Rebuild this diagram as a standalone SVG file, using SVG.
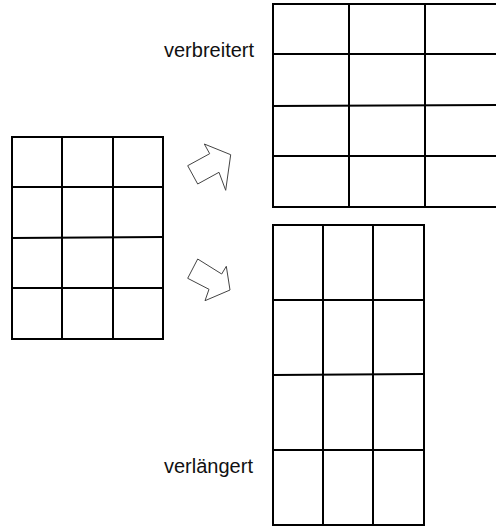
<svg xmlns="http://www.w3.org/2000/svg" width="496" height="526" viewBox="0 0 496 526">
<style>
.grid line, .grid rect { stroke: #000; stroke-width: 2; fill: none; }
.arrow { fill: #fff; stroke: #444; stroke-width: 1; stroke-linejoin: miter; }
.lbl { font-family: "Liberation Sans", Arial, sans-serif; font-size: 20px; fill: #111; }
</style>
<rect width="496" height="526" fill="#fff"/>
<g id="original" class="grid">
  <rect x="12" y="137" width="151" height="202"/>
  <line x1="62" y1="137" x2="62" y2="339"/>
  <line x1="113" y1="137" x2="113" y2="339"/>
  <line x1="12" y1="187" x2="163" y2="187"/>
  <line x1="12" y1="238" x2="163" y2="237" stroke-width="1.5"/>
  <line x1="12" y1="288" x2="163" y2="288"/>
</g>
<g id="verbreitert" class="grid">
  <rect x="273" y="4" width="229" height="203"/>
  <line x1="349" y1="4" x2="349" y2="207"/>
  <line x1="425" y1="4" x2="425" y2="207"/>
  <line x1="273" y1="54" x2="502" y2="54"/>
  <line x1="273" y1="106" x2="502" y2="105" stroke-width="1.5"/>
  <line x1="273" y1="156" x2="502" y2="156"/>
  <text class="lbl" x="164" y="57" stroke="none">verbreitert</text>
</g>
<g id="verlaengert" class="grid">
  <rect x="273" y="225" width="151" height="300"/>
  <line x1="323" y1="225" x2="323" y2="525"/>
  <line x1="373" y1="225" x2="373" y2="525"/>
  <line x1="273" y1="300" x2="424" y2="300"/>
  <line x1="273" y1="375" x2="424" y2="374" stroke-width="1.5"/>
  <line x1="273" y1="450" x2="424" y2="450"/>
  <text class="lbl" x="164" y="473" stroke="none">verlängert</text>
</g>
<g id="connectors">
  <polygon class="arrow" points="204.3,144 230.7,154.7 225.7,190.3 219,172.3 197.7,184 187.7,165.7 209.7,153.7"/>
  <polygon class="arrow" points="197.7,259 221.7,274 226.3,266.3 230,290 205,300.7 209,289.3 187.7,278.3"/>
</g>
</svg>
